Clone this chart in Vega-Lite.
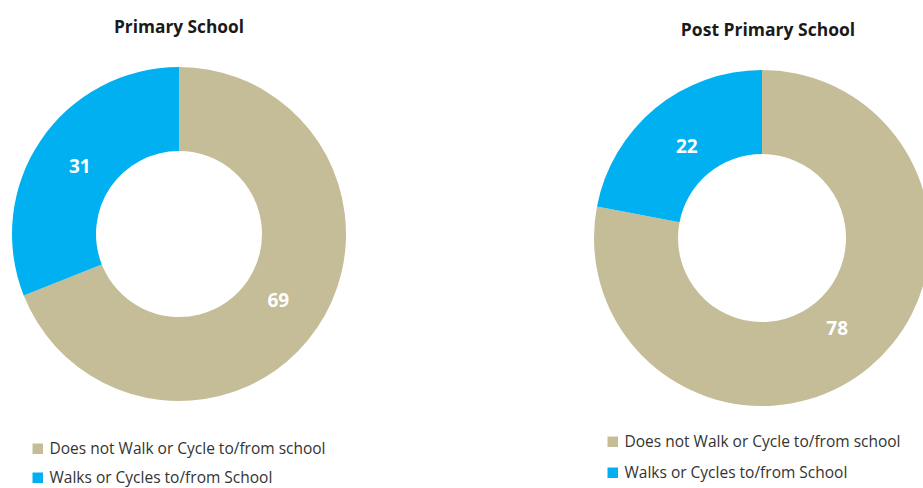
{
  "$schema": "https://vega.github.io/schema/vega-lite/v6.json",
  "padding": {"left": 11, "top": 18, "right": 0, "bottom": 0},
  "background": "white",
  "config": {"view": {"stroke": null}, "font": "Open Sans"},
  "data": {"values": [
    {"school": "Primary School", "category": "Does not Walk or Cycle to/from school", "value": 69},
    {"school": "Primary School", "category": "Walks or Cycles to/from School", "value": 31},
    {"school": "Post Primary School", "category": "Does not Walk or Cycle to/from school", "value": 78},
    {"school": "Post Primary School", "category": "Walks or Cycles to/from School", "value": 22}
  ]},
  "spacing": 247,
  "resolve": {"scale": {"color": "independent"}, "legend": {"color": "independent"}},
  "hconcat": [
    {
      "width": 336, "height": 336,
      "transform": [{"filter": "datum.school === 'Primary School'"}],
      "title": {"text": "Primary School", "fontSize": 17.3, "fontWeight": "bold", "color": "#1a1a1a", "offset": 30, "anchor": "middle"},
      "encoding": {
        "theta": {"field": "value", "type": "quantitative", "stack": true},
        "order": {"field": "category", "type": "nominal", "sort": "ascending"},
        "color": {"field": "category", "type": "nominal",
          "scale": {"domain": ["Does not Walk or Cycle to/from school", "Walks or Cycles to/from School"], "range": ["#C4BD97", "#00B0F0"]},
          "legend": {"orient": "none", "legendX": 19, "legendY": 375, "title": null, "symbolType": "square", "symbolSize": 110, "symbolStrokeWidth": 0, "labelFontSize": 15.5, "labelColor": "#333333", "labelLimit": 0, "rowPadding": 12, "labelOffset": 4}}
      },
      "layer": [
        {"mark": {"type": "arc", "outerRadius": 167, "innerRadius": 83}},
        {"mark": {"type": "text", "radius": 120, "fontSize": 19, "fontWeight": "bold", "align": "center", "baseline": "middle"},
         "encoding": {"text": {"field": "value", "type": "quantitative"}, "detail": {"field": "category", "type": "nominal"}, "color": {"value": "white"}}}
      ]
    },
    {
      "width": 336, "height": 344,
      "transform": [{"filter": "datum.school === 'Post Primary School'"}],
      "title": {"text": "Post Primary School", "fontSize": 17.5, "fontWeight": "bold", "color": "#1a1a1a", "offset": 27, "anchor": "middle", "dx": 6},
      "encoding": {
        "theta": {"field": "value", "type": "quantitative", "stack": true},
        "order": {"field": "category", "type": "nominal", "sort": "ascending"},
        "color": {"field": "category", "type": "nominal",
          "scale": {"domain": ["Does not Walk or Cycle to/from school", "Walks or Cycles to/from School"], "range": ["#C4BD97", "#00B0F0"]},
          "legend": {"orient": "none", "legendX": 11, "legendY": 368, "title": null, "symbolType": "square", "symbolSize": 110, "symbolStrokeWidth": 0, "labelFontSize": 15.5, "labelColor": "#333333", "labelLimit": 0, "rowPadding": 14, "labelOffset": 4}}
      },
      "layer": [
        {"mark": {"type": "arc", "outerRadius": 168, "innerRadius": 84}},
        {"mark": {"type": "text", "radius": 118, "fontSize": 19, "fontWeight": "bold", "align": "center", "baseline": "middle"},
         "encoding": {"text": {"field": "value", "type": "quantitative"}, "detail": {"field": "category", "type": "nominal"}, "color": {"value": "white"}}}
      ]
    }
  ]
}
